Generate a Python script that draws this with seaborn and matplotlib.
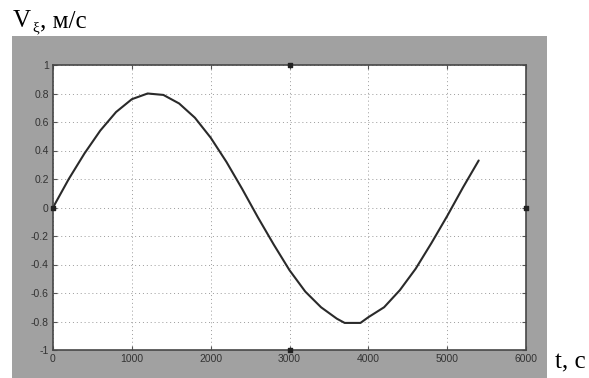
import matplotlib
matplotlib.use("Agg")
import matplotlib.pyplot as plt
from matplotlib.patches import Rectangle
import numpy as np
import pandas as pd
import seaborn as sns

# Velocity component V_xi over time
t_sec = [0, 200, 400, 600, 800, 1000, 1200, 1400, 1600, 1800, 2000, 2200,
         2400, 2600, 2800, 3000, 3200, 3400, 3600, 3700, 3900, 4000, 4200,
         4400, 4600, 4800, 5000, 5200, 5400]
v_xi = [0.00, 0.20, 0.38, 0.54, 0.67, 0.76, 0.80, 0.79, 0.73, 0.63, 0.49,
        0.32, 0.13, -0.07, -0.26, -0.44, -0.59, -0.70, -0.78, -0.81, -0.81,
        -0.77, -0.70, -0.58, -0.43, -0.25, -0.06, 0.14, 0.33]

x_ticks = [0, 1000, 2000, 3000, 4000, 5000, 6000]
y_ticks = [-1, -0.8, -0.6, -0.4, -0.2, 0, 0.2, 0.4, 0.6, 0.8, 1]
y_tick_labels = ["-1", "-0.8", "-0.6", "-0.4", "-0.2", "0", "0.2", "0.4", "0.6", "0.8", "1"]

df = pd.DataFrame({"t": t_sec, "v": v_xi})

sns.set_style("white")
plt.rcParams["font.family"] = ["Liberation Sans", "DejaVu Sans"]

W, H = 589, 378
fig = plt.figure(figsize=(W / 100, H / 100), dpi=100)
fig.patch.set_facecolor("white")

# gray figure panel behind the axes
panel = Rectangle((12 / W, 0), (547 - 12) / W, (378 - 36) / H,
                  transform=fig.transFigure, facecolor="#a1a1a1",
                  edgecolor="none", zorder=-10)
fig.patches.append(panel)

ax = fig.add_axes([53 / W, (378 - 350) / H, (526 - 53) / W, (350 - 65) / H])
ax.set_zorder(1)
ax.set_facecolor("white")

sns.lineplot(data=df, x="t", y="v", ax=ax, color="#2a2a2a", linewidth=1.5,
             estimator=None, sort=False)

ax.set_xlim(0, 6000)
ax.set_ylim(-1, 1)
ax.set_xticks(x_ticks)
ax.set_xticklabels([str(v) for v in x_ticks])
ax.set_yticks(y_ticks)
ax.set_yticklabels(y_tick_labels)
ax.set_xlabel("")
ax.set_ylabel("")

ax.grid(True, color="#9a9a9a", linestyle=(0, (1, 3)), linewidth=0.7)
ax.tick_params(direction="in", length=3, width=0.8, color="#555555",
               labelsize=7.5, labelcolor="#333333", top=True, right=True,
               bottom=True, left=True, pad=3)
for side in ["top", "bottom", "left", "right"]:
    ax.spines[side].set_visible(True)
    ax.spines[side].set_color("#474747")
    ax.spines[side].set_linewidth(1.2)

# small selection handles on the axes frame
handles_x = [3000, 3000, 6000, 0]
handles_y = [1, -1, 0, 0]
ax.scatter(handles_x, handles_y, marker="s", s=8, color="#222222",
           clip_on=False, zorder=5)

# axis captions
serif = ["Liberation Serif", "DejaVu Serif"]
fig.text(13 / W, 1 - 27 / H, "V", family=serif, fontsize=18, color="black")
fig.text(32 / W, 1 - 31 / H, "ξ", family=serif, fontsize=11, color="black")
fig.text(40 / W, 1 - 27 / H, ", м/с", family=serif, fontsize=18, color="black")
fig.text(555 / W, 1 - 368 / H, "t, c", family=serif, fontsize=18, color="black")

fig.savefig("out.png", dpi=100)
